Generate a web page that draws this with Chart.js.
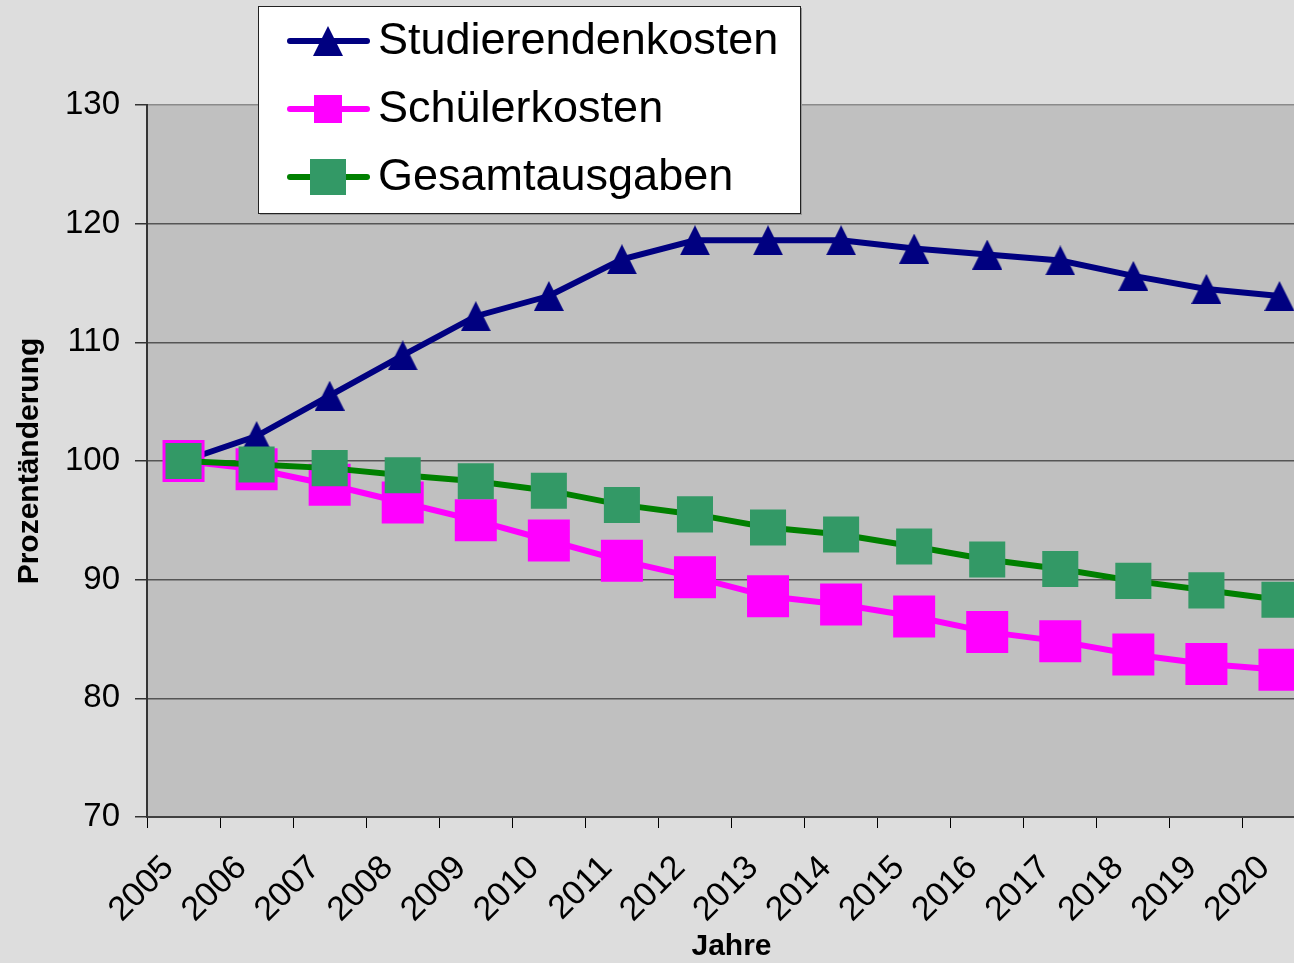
<!DOCTYPE html>
<html lang="de">
<head>
<meta charset="utf-8">
<title>Prozentänderung 2005-2020</title>
<script src="https://cdn.jsdelivr.net/npm/chart.js@4/dist/chart.umd.min.js"></script>
<style>
  html, body { margin: 0; padding: 0; overflow: hidden; background: #dddddd; }
  #kostenChart { display: block; }
</style>
</head>
<body>
<canvas id="kostenChart" width="1316" height="963"></canvas>
<script>
// Data
const years = ['2005', '2006', '2007', '2008', '2009', '2010', '2011', '2012',
               '2013', '2014', '2015', '2016', '2017', '2018', '2019', '2020'];
const studierendenkosten = [100, 102.1, 105.5, 108.9, 112.2, 113.9, 117.0, 118.6,
                            118.6, 118.6, 117.9, 117.4, 116.9, 115.6, 114.5, 113.9];
const schuelerkosten = [100, 99.3, 98.0, 96.5, 95.0, 93.3, 91.6, 90.2,
                        88.6, 87.9, 86.9, 85.6, 84.8, 83.7, 82.9, 82.4];
const gesamtausgaben = [100, 99.7, 99.4, 98.8, 98.3, 97.5, 96.3, 95.5,
                        94.4, 93.8, 92.8, 91.7, 90.9, 89.9, 89.1, 88.3];
const yTicks = [70, 80, 90, 100, 110, 120, 130];

const FONT = 'Arial, "Liberation Sans", Helvetica, sans-serif';
Chart.defaults.font.family = FONT;
Chart.defaults.color = '#000';

// centred triangle marker
function triangleMarker(w, h, color) {
    const c = document.createElement('canvas');
    c.width = w;
    c.height = h;
    const g = c.getContext('2d');
    g.fillStyle = color;
    g.beginPath();
    g.moveTo(w / 2, 0);
    g.lineTo(w, h);
    g.lineTo(0, h);
    g.closePath();
    g.fill();
    return c;
}

// backgrounds: page grey, plot area silver
const backgroundPlugin = {
    id: 'backgrounds',
    beforeDraw(chart) {
        const { ctx, chartArea: a } = chart;
        ctx.save();
        ctx.fillStyle = '#dddddd';
        ctx.fillRect(0, 0, chart.width, chart.height);
        ctx.fillStyle = '#c0c0c0';
        ctx.fillRect(a.left, a.top, a.right - a.left, a.bottom - a.top);
        ctx.restore();
    }
};

// legend box drawn over the top of the plot, like the original
const legendBoxPlugin = {
    id: 'legendBox',
    afterDraw(chart) {
        const ctx = chart.ctx;
        const box = { x: 258, y: 6, w: 542, h: 207 };
        ctx.save();
        ctx.fillStyle = '#999';
        ctx.fillRect(box.x + 2, box.y + 2, box.w, box.h);
        ctx.fillStyle = '#ffffff';
        ctx.fillRect(box.x, box.y, box.w, box.h);
        ctx.strokeStyle = '#222';
        ctx.lineWidth = 1;
        ctx.strokeRect(box.x + 0.5, box.y + 0.5, box.w, box.h);

        const rowY = [41, 109, 177];
        const markers = [
            { type: 'tri', w: 30, h: 30 },
            { type: 'sq', s: 28 },
            { type: 'sq', s: 36 }
        ];
        chart.data.datasets.forEach((ds, i) => {
            const y = rowY[i];
            ctx.strokeStyle = ds.borderColor;
            ctx.lineWidth = 6;
            ctx.lineCap = 'round';
            ctx.beginPath();
            ctx.moveTo(290, y);
            ctx.lineTo(367, y);
            ctx.stroke();
            const m = markers[i];
            ctx.fillStyle = ds.pointBackgroundColor;
            if (m.type === 'tri') {
                ctx.beginPath();
                ctx.moveTo(328, y - m.h / 2);
                ctx.lineTo(328 + m.w / 2, y + m.h / 2);
                ctx.lineTo(328 - m.w / 2, y + m.h / 2);
                ctx.closePath();
                ctx.fill();
            } else {
                ctx.fillRect(328 - m.s / 2, y - m.s / 2, m.s, m.s);
            }
            ctx.fillStyle = '#000';
            ctx.font = '45px ' + FONT;
            ctx.textBaseline = 'middle';
            ctx.textAlign = 'left';
            ctx.fillText(ds.label, 378, y + 1);
        });
        ctx.restore();
    }
};

const ctx = document.getElementById('kostenChart').getContext('2d');
const kostenChart = new Chart(ctx, {
    type: 'line',
    data: {
        labels: years,
        datasets: [{
            label: 'Studierendenkosten',
            data: studierendenkosten,
            borderColor: '#000080',
            backgroundColor: '#000080',
            pointBackgroundColor: '#000080',
            borderWidth: 6,
            pointStyle: triangleMarker(30, 30, '#000080'),
            pointRadius: 15,
            tension: 0,
            order: 2
        }, {
            label: 'Schülerkosten',
            data: schuelerkosten,
            borderColor: '#ff00ff',
            backgroundColor: '#ff00ff',
            pointBackgroundColor: '#ff00ff',
            pointBorderWidth: 0,
            borderWidth: 6,
            pointStyle: 'rect',
            pointRadius: 29.7,
            tension: 0,
            order: 1
        }, {
            label: 'Gesamtausgaben',
            data: gesamtausgaben,
            borderColor: '#008000',
            backgroundColor: '#339966',
            pointBackgroundColor: '#339966',
            pointBorderWidth: 0,
            borderWidth: 6,
            pointStyle: 'rect',
            pointRadius: 25.5,
            tension: 0,
            order: 0
        }]
    },
    options: {
        responsive: false,
        animation: false,
        devicePixelRatio: 1,
        layout: { autoPadding: false, padding: { top: 105, left: 0, right: 0, bottom: 0 } },
        plugins: {
            legend: { display: false },
            tooltip: { enabled: false }
        },
        scales: {
            x: {
                offset: true,
                grid: {
                    offset: true,
                    drawOnChartArea: false,
                    tickLength: 11,
                    tickColor: '#000',
                    tickWidth: 1
                },
                border: { color: '#404040', width: 2 },
                ticks: {
                    autoSkip: false,
                    minRotation: 45,
                    maxRotation: 45,
                    padding: 20,
                    labelOffset: -15,
                    font: { size: 34 },
                    color: '#000'
                },
                title: {
                    display: true,
                    text: 'Jahre',
                    font: { size: 30, weight: 'bold', lineHeight: 1 },
                    padding: { top: 0, bottom: 1 },
                    color: '#000'
                },
                afterFit(scale) {
                    scale.height = 146;
                    scale.paddingLeft = 0;
                    scale.paddingRight = 0;
                }
            },
            y: {
                min: 70,
                max: 130,
                afterBuildTicks(scale) {
                    scale.ticks = yTicks.map(v => ({ value: v }));
                },
                grid: {
                    color: c => (c.tick && c.tick.value === 130) ? '#8a8a8a' : '#555555',
                    lineWidth: 1.5,
                    tickLength: 12,
                    tickColor: '#333'
                },
                border: { color: '#333', width: 2 },
                ticks: {
                    padding: 15,
                    font: { size: 33 },
                    color: '#000'
                },
                title: {
                    display: true,
                    text: 'Prozentänderung',
                    font: { size: 30, weight: 'bold', lineHeight: 1.2 },
                    padding: { top: 12, bottom: 0 },
                    color: '#000'
                },
                afterFit(scale) {
                    scale.width = 147;
                    scale.paddingTop = 0;
                    scale.paddingBottom = 0;
                }
            }
        }
    },
    plugins: [backgroundPlugin, legendBoxPlugin]
});
</script>
</body>
</html>
